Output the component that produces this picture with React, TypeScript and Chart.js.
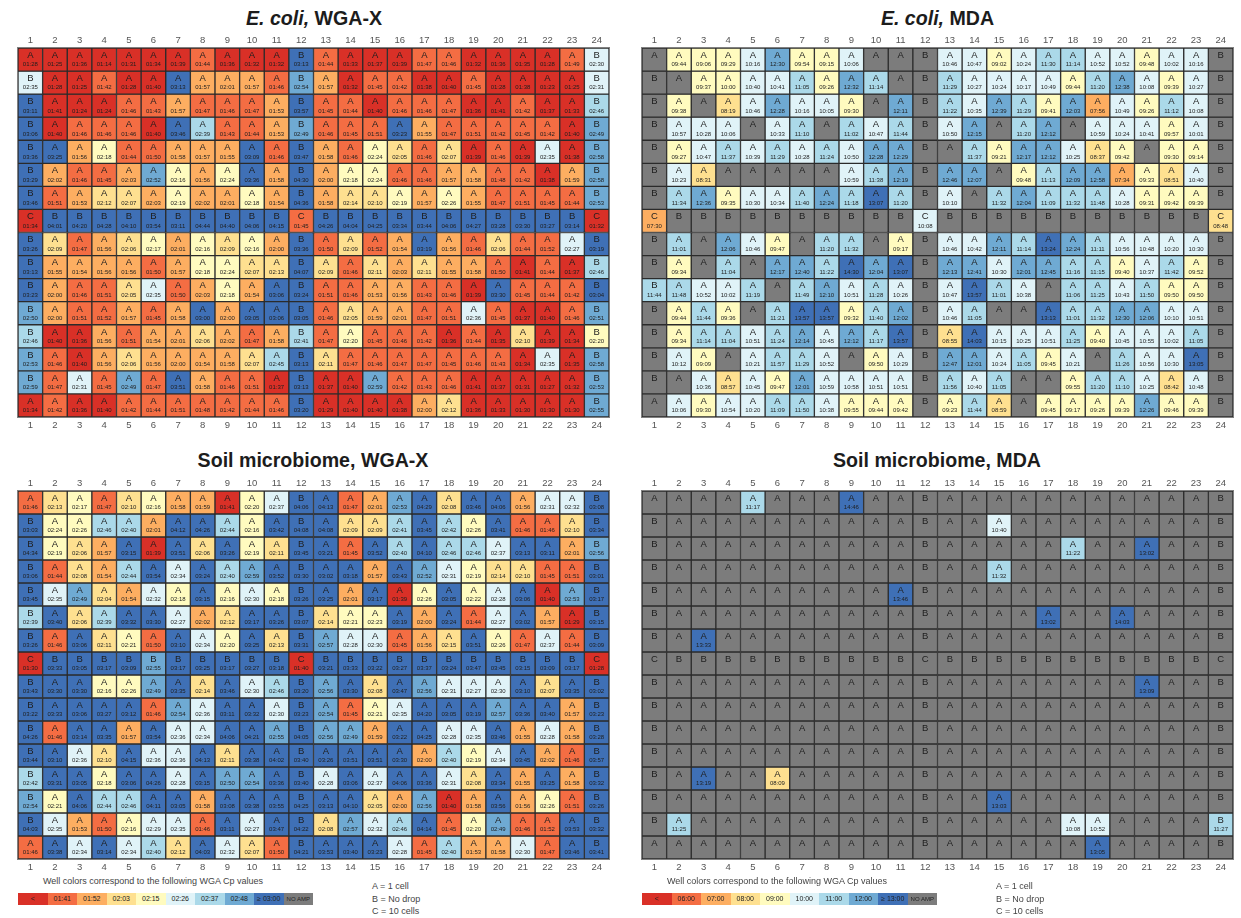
import React, { useEffect, useRef } from "react";
import { Chart, registerables } from "chart.js";

Chart.register(...registerables);

const FONT = '"Liberation Sans", Arial, sans-serif';

const columnLabels = Array.from({ length: 24 }, (_, i) => String(i + 1));
const rowLabels = ["A", "B", "C", "D", "E", "F", "G", "H", "I", "J", "K", "L", "M", "N", "O", "P"];

const wellContents = [
  "AAAAAAAAAAABAAAAAAAAAAAB",
  "BAAAAAAAAAABAAAAAAAAAAAB",
  "BAAAAAAAAAABAAAAAAAAAAAB",
  "BAAAAAAAAAABAAAAAAAAAAAB",
  "BAAAAAAAAAABAAAAAAAAAAAB",
  "BAAAAAAAAAABAAAAAAAAAAAB",
  "BAAAAAAAAAABAAAAAAAAAAAB",
  "CBBBBBBBBBBCBBBBBBBBBBBC",
  "BAAAAAAAAAABAAAAAAAAAAAB",
  "BAAAAAAAAAABAAAAAAAAAAAB",
  "BAAAAAAAAAABAAAAAAAAAAAB",
  "BAAAAAAAAAABAAAAAAAAAAAB",
  "BAAAAAAAAAABAAAAAAAAAAAB",
  "BAAAAAAAAAABAAAAAAAAAAAB",
  "BAAAAAAAAAABAAAAAAAAAAAB",
  "AAAAAAAAAAABAAAAAAAAAAAB",
];

const palette = ["#D93027", "#F46D43", "#FDAE61", "#FEE090", "#FFFBBF", "#E0F3F8", "#ABD9E9", "#6FAAD3", "#3F70B6"];
const noAmpColor = "#7C7C7C";

const wgaBreaks = ["01:41", "01:52", "02:03", "02:15", "02:26", "02:37", "02:48", "02:59"];
const mdaBreaks = ["06:00", "07:00", "08:00", "09:00", "10:00", "11:00", "12:00", "13:00"];
const wgaLegend = ["<", "01:41", "01:52", "02:03", "02:15", "02:26", "02:37", "02:48", "\u2265 03:00", "NO AMP"];
const mdaLegend = ["<", "06:00", "07:00", "08:00", "09:00", "10:00", "11:00", "12:00", "\u2265 13:00", "NO AMP"];

const ecoliWga = [
  "01:28 01:25 01:36 01:14 01:31 01:34 01:39 01:44 01:36 01:32 01:32 03:13 01:44 01:33 01:37 01:39 01:47 01:46 01:32 01:36 01:35 01:28 01:49 02:30",
  "02:35 01:28 01:25 01:42 01:28 01:40 03:13 01:57 02:01 01:57 01:46 02:54 01:57 01:32 01:45 01:42 01:38 01:40 01:45 01:28 01:38 01:23 01:25 02:31",
  "03:11 01:41 01:24 01:24 01:46 01:43 01:57 01:47 01:46 01:47 01:53 03:57 01:45 01:44 01:40 01:46 01:46 01:47 01:36 01:41 01:42 01:37 01:33 02:46",
  "03:06 01:40 01:46 01:46 01:46 01:40 03:46 02:39 01:43 01:44 01:53 02:49 01:46 01:45 01:51 03:23 01:55 01:47 01:51 01:42 01:45 01:42 01:40 02:49",
  "03:36 03:25 01:56 02:18 01:44 01:50 01:58 01:57 01:55 03:09 01:46 03:47 01:58 01:46 02:24 02:05 01:46 02:07 01:39 01:46 01:39 02:35 01:38 02:58",
  "03:29 02:02 01:46 01:45 02:03 02:52 02:16 01:56 02:24 03:36 01:58 04:30 02:00 02:18 02:24 01:46 01:46 01:57 01:58 01:48 01:42 01:38 01:59 02:58",
  "03:46 01:51 01:53 02:12 02:07 02:03 02:19 02:02 02:01 02:18 01:54 04:36 01:58 02:14 02:10 02:19 01:57 02:26 01:55 01:47 01:51 01:45 01:44 02:53",
  "01:34 04:01 04:20 04:28 04:10 03:54 03:11 04:44 04:40 04:06 04:15 01:45 04:26 04:04 04:25 03:34 03:44 04:06 04:27 03:28 03:30 03:27 03:14 01:32",
  "03:26 02:09 01:47 01:56 02:06 02:17 02:01 02:16 02:09 02:16 02:00 03:36 01:50 02:09 01:52 01:54 03:19 01:56 01:46 02:06 01:44 01:52 02:27 03:19",
  "03:13 01:55 01:54 01:56 01:56 01:50 01:57 02:18 02:24 02:07 02:13 04:07 02:09 01:46 02:11 02:03 02:11 01:55 01:58 01:50 01:41 01:44 01:37 02:46",
  "03:23 02:00 01:46 01:51 02:05 02:35 01:50 02:03 02:18 01:54 03:06 03:24 01:51 01:46 01:53 01:56 01:43 01:46 01:39 03:30 01:45 01:44 01:42 03:04",
  "02:50 02:00 01:51 01:52 01:57 01:45 01:58 03:00 02:00 03:05 03:06 03:05 01:46 02:05 01:59 02:01 01:47 01:51 02:36 01:45 01:37 01:40 01:46 02:51",
  "02:46 01:40 01:36 01:56 01:51 01:54 02:01 02:06 02:02 01:47 01:58 02:41 01:47 02:20 01:45 01:46 01:42 01:36 01:44 01:35 02:10 01:39 01:34 02:20",
  "02:53 01:46 01:40 01:56 02:06 01:56 02:00 01:54 01:58 02:07 02:45 03:13 02:11 01:47 01:46 01:47 01:47 01:45 01:46 01:43 01:34 02:35 01:35 02:58",
  "02:59 01:47 02:31 01:45 02:49 01:47 03:51 01:58 01:46 01:51 01:37 03:13 01:37 01:40 02:59 01:42 01:43 01:46 01:41 01:37 01:31 01:27 01:32 02:53",
  "01:34 01:42 01:36 01:40 01:42 01:44 01:51 01:48 01:42 01:44 01:46 03:20 01:29 01:40 01:40 01:38 02:00 02:12 01:36 01:33 01:30 01:30 01:30 02:55",
];

const ecoliMda = [
  "- 09:44 09:06 09:29 10:16 12:30 09:54 09:15 10:06 - - - 10:46 10:47 09:02 10:24 11:30 11:14 10:52 10:52 09:48 10:02 10:16 -",
  "- - 09:37 10:00 10:40 10:41 11:05 09:26 12:32 11:14 - - 11:29 10:27 10:24 10:17 10:49 09:44 11:20 12:38 10:08 09:39 10:27 -",
  "- 09:38 - 08:19 10:46 12:28 10:16 10:05 09:30 - 12:11 - 11:22 10:35 12:39 11:29 09:41 12:03 07:56 10:49 09:26 11:12 10:08 -",
  "- 10:57 10:28 10:06 - 10:33 11:10 - 11:02 10:47 11:44 - 10:50 12:15 - 11:20 12:12 - 10:59 10:24 10:41 09:57 10:01 -",
  "- 09:27 10:47 11:37 10:39 11:29 10:28 11:24 10:50 12:28 12:29 - - 11:37 09:21 12:17 12:12 10:25 08:37 09:42 - 09:30 09:14 -",
  "- 10:23 08:31 - - - - - 10:59 11:38 12:19 - 12:46 12:07 - 09:48 11:13 12:09 12:58 07:34 09:33 08:51 10:40 -",
  "- 11:34 12:36 09:35 10:30 10:34 11:40 12:24 11:18 13:07 11:20 - 10:10 - 11:32 12:04 11:09 11:32 11:48 10:28 09:31 09:42 09:39 -",
  "07:30 - - - - - - - - - - 10:08 - - - - - - - - - - - 08:48",
  "- 11:01 - 12:06 10:46 09:47 - 11:20 11:32 - 09:17 - 10:46 10:42 12:11 11:14 13:24 12:24 11:11 10:56 10:48 10:20 10:30 -",
  "- 09:34 - 11:04 - 12:17 12:40 11:22 14:30 12:04 13:07 - 12:13 12:41 10:30 12:01 12:45 11:16 11:15 09:40 10:37 11:42 09:52 -",
  "11:44 11:48 10:52 10:02 11:19 - 11:49 12:10 10:51 11:28 10:26 - 10:47 13:57 11:01 10:38 - 11:06 11:25 10:43 11:50 09:50 09:50 -",
  "- 09:44 11:44 09:36 - 11:21 13:57 13:57 09:32 11:40 12:02 - 10:46 11:05 - - 13:13 11:01 11:32 12:30 12:06 10:10 10:51 -",
  "- 09:34 11:14 11:04 10:51 11:24 12:14 10:45 12:12 11:17 13:57 - 08:55 14:03 10:15 10:25 10:51 11:25 09:40 10:45 10:55 10:02 11:05 -",
  "- 10:12 09:09 - 10:21 11:57 11:29 10:52 - 09:50 10:29 - 12:47 12:01 10:24 11:05 09:45 10:21 - 11:26 10:56 10:30 13:05 -",
  "- - 10:36 08:57 10:45 09:47 12:01 10:59 10:58 10:51 10:51 - 11:56 10:40 11:05 - - 09:55 11:20 11:10 10:25 08:42 10:48 -",
  "- 10:06 09:30 10:54 10:20 11:09 11:50 10:38 09:55 09:44 09:42 - 09:23 11:44 08:59 - 09:45 09:17 09:26 09:39 12:26 09:46 09:39 -",
];

const soilWga = [
  "01:46 02:13 02:17 01:47 02:10 02:16 01:58 01:59 01:41 02:20 02:37 04:06 04:13 01:47 02:01 02:53 04:29 02:08 03:46 04:06 01:56 02:31 02:32 03:08",
  "03:03 02:24 02:26 02:46 02:40 02:01 04:12 04:26 02:44 02:16 03:42 04:08 04:08 02:09 02:09 02:41 03:45 02:42 02:26 03:41 01:46 01:46 02:10 03:34",
  "04:34 02:19 02:06 01:57 03:15 01:39 03:51 02:06 03:26 02:19 02:11 03:45 03:21 01:45 03:52 02:40 04:10 02:46 02:46 02:37 03:13 03:11 02:01 02:56",
  "03:06 01:44 02:08 01:54 02:44 03:54 02:34 03:24 02:40 02:59 03:52 03:30 03:02 03:18 01:57 03:43 02:52 02:31 02:19 02:14 02:10 01:45 01:51 03:01",
  "03:45 02:35 02:49 02:04 01:54 02:32 02:18 03:15 02:16 02:30 02:18 03:26 03:25 02:01 03:17 01:39 02:26 03:05 02:22 02:28 03:06 01:40 02:53 03:17",
  "02:39 03:40 02:06 02:39 03:32 03:30 02:27 02:02 02:12 03:17 03:26 03:07 02:14 02:21 02:23 03:19 02:00 03:24 01:44 02:27 03:02 01:57 01:29 03:15",
  "03:26 01:46 03:06 02:11 02:21 01:50 03:10 02:34 02:20 03:25 02:13 03:31 02:57 02:28 02:30 01:45 01:56 02:15 03:51 02:26 01:47 02:37 01:44 03:09",
  "01:30 03:33 03:05 03:17 03:09 02:55 03:17 03:25 03:17 03:27 03:18 01:40 03:21 03:33 03:22 03:27 03:37 03:24 03:47 03:45 03:15 03:09 03:17 01:28",
  "03:43 03:30 03:30 02:16 02:26 02:49 03:35 02:14 03:46 02:30 02:46 03:20 02:56 03:30 02:08 03:47 02:56 02:31 02:27 02:30 03:10 02:07 03:35 03:02",
  "03:22 03:33 03:06 03:27 03:12 01:46 02:54 02:36 03:11 03:32 02:30 03:23 02:54 01:45 02:21 02:35 04:20 03:05 03:19 02:57 03:36 03:40 01:57 03:23",
  "04:26 01:46 03:14 03:35 01:57 03:54 02:36 02:34 04:06 04:21 02:55 04:05 02:56 02:49 01:59 03:22 04:25 02:28 02:35 03:46 01:55 02:28 01:58 03:28",
  "03:44 03:10 02:36 02:10 04:15 02:36 02:36 04:13 02:11 03:38 04:02 03:40 03:26 03:51 03:51 03:30 02:00 02:40 02:19 02:34 03:45 02:02 01:46 03:57",
  "02:42 03:31 03:05 02:18 03:06 04:26 02:28 03:15 02:50 02:54 03:36 03:40 02:28 03:06 02:37 04:06 03:36 02:31 02:08 03:34 01:55 03:25 01:58 03:32",
  "02:54 02:21 04:06 02:44 02:46 04:11 03:05 01:58 03:08 03:38 03:55 04:25 03:13 04:10 02:05 02:00 02:56 01:40 01:58 03:56 01:56 02:26 01:51 03:26",
  "04:03 02:35 01:53 01:50 02:16 02:29 02:35 01:46 03:11 02:27 03:47 04:22 02:08 02:57 02:32 02:46 04:14 01:45 02:20 02:49 01:46 01:52 03:53 03:32",
  "01:46 03:38 02:34 03:14 02:34 02:40 02:12 04:03 02:32 02:07 01:50 04:21 03:53 03:40 03:23 02:28 01:45 02:40 01:53 01:58 02:30 01:47 03:46 03:41",
];

const soilMda = [
  "- - - - 11:17 - - - 14:46 - - - - - - - - - - - - - - -",
  "- - - - - - - - - - - - - - 10:40 - - - - - - - - -",
  "- - - - - - - - - - - - - - - - - 11:22 - - 13:02 - - -",
  "- - - - - - - - - - - - - - 11:32 - - - - - - - - -",
  "- - - - - - - - - - 13:46 - - - - - - - - - - - - -",
  "- - - - - - - - - - - - - - - - 13:02 - - 14:03 - - - -",
  "- - 13:33 - - - - - - - - - - - - - - - - - - - - -",
  "- - - - - - - - - - - - - - - - - - - - - - - -",
  "- - - - - - - - - - - - - - - - - - - - 13:09 - - -",
  "- - - - - - - - - - - - - - - - - - - - - - - -",
  "- - - - - - - - - - - - - - - - - - - - - - - -",
  "- - - - - - - - - - - - - - - - - - - - - - - -",
  "- - 13:19 - - 08:09 - - - - - - - - - - - - - - - - - -",
  "- - - - - - - - - - - - - - 13:03 - - - - - - - - -",
  "- 11:25 - - - - - - - - - - - - - - - 10:08 10:52 - - - - 11:27",
  "- - - - - - - - - - - - - - - - - - 13:05 - - - - -",
];

function colorFor(time: string, breaks: string[]) {
  if (!time || time === "-") return noAmpColor;
  const i = breaks.findIndex((b) => time <= b);
  return palette[i < 0 ? palette.length - 1 : i];
}

const wellText = {
  id: "wellText",
  afterDatasetsDraw(chart: any) {
    const { ctx, scales } = chart;
    ctx.save();
    ctx.textAlign = "center";
    ctx.textBaseline = "middle";
    ctx.fillStyle = "#1e1e1e";
    chart.data.datasets.forEach((ds: any, r: number) => {
      const yMid = scales.y.getPixelForValue(r);
      ds.times.forEach((t: string, c: number) => {
        const x = scales.x.getPixelForValue(c);
        ctx.font = `9.5px ${FONT}`;
        ctx.fillText(ds.contents[c], x, yMid - 4.3);
        if (t !== "-") {
          ctx.font = `6px ${FONT}`;
          ctx.fillText(t, x, yMid + 5.2);
        }
      });
    });
    ctx.restore();
  },
};

const tickFont = { family: FONT, size: 9.5 };
const axisBorder = { display: true, color: "#808080", width: 2 };

function Plate({ rows, breaks, left, top, width, height, rightGutter }: any) {
  const ref = useRef<HTMLCanvasElement>(null);
  useEffect(() => {
    const parsed = rows.map((s: string) => s.split(" "));
    const fix = (prop: "width" | "height", v: number) => (s: any) => {
      s[prop] = v;
    };
    const rowScale = (position: string, w: number, padding: number) => ({
      type: "linear",
      position,
      reverse: true,
      min: -0.5,
      max: 15.5,
      z: 1,
      afterFit: fix("width", w),
      border: axisBorder,
      grid: { display: false, drawTicks: false },
      ticks: {
        stepSize: 1,
        includeBounds: false,
        autoSkip: false,
        padding,
        color: "#555",
        font: { family: FONT, size: 10 },
        callback: (v: number) => rowLabels[v],
      },
    });
    const colScale = (position: string, h: number, padding: number) => ({
      type: "category",
      position,
      labels: columnLabels,
      offset: true,
      z: 1,
      afterFit: fix("height", h),
      border: axisBorder,
      grid: { display: false, drawTicks: false },
      ticks: { autoSkip: false, maxRotation: 0, padding, color: "#555", font: tickFont },
    });
    const chart = new Chart(ref.current!, {
      type: "bar",
      data: {
        labels: columnLabels,
        datasets: parsed.map((times: string[], r: number) => ({
          label: rowLabels[r],
          contents: wellContents[r].split(""),
          times,
          data: times.map(() => [r - 0.5, r + 0.5]),
          backgroundColor: times.map((t) => colorFor(t, breaks)),
          borderColor: "#2b2b2b",
          borderWidth: 1,
          borderSkipped: false,
          grouped: false,
          categoryPercentage: 1,
          barPercentage: 1,
          xAxisID: "x",
          yAxisID: "y",
        })),
      } as any,
      options: {
        responsive: false,
        animation: false,
        layout: { padding: 0 },
        plugins: { legend: { display: false }, tooltip: { enabled: false }, title: { display: false } },
        scales: {
          x: colScale("bottom", 15, 3),
          xTop: colScale("top", 18, 2),
          y: rowScale("left", 18, 3),
          yRight: rowScale("right", rightGutter, 2),
        },
      } as any,
      plugins: [wellText],
    });
    return () => chart.destroy();
  }, []);
  return (
    <canvas
      ref={ref}
      width={width}
      height={height}
      style={{ position: "absolute", left, top, width, height, display: "block" }}
    />
  );
}

function Heading({ center, top, children }: any) {
  return (
    <div
      style={{
        position: "absolute",
        left: center - 200,
        top,
        width: 400,
        textAlign: "center",
        fontWeight: 700,
        fontSize: 19.6,
        lineHeight: "26px",
        color: "#1c1c1c",
        fontFamily: FONT,
      }}
    >
      {children}
    </div>
  );
}

function Key({ left, keyLeft, labels }: any) {
  const swatches = [...palette, noAmpColor];
  return (
    <>
      <div
        style={{
          position: "absolute",
          left: left + 25,
          top: 875,
          fontSize: 9,
          lineHeight: "12px",
          color: "#444",
          whiteSpace: "nowrap",
          fontFamily: FONT,
        }}
      >
        Well colors correspond to the following WGA Cp values
      </div>
      <div style={{ position: "absolute", left, top: 893, display: "flex", height: 12 }}>
        {labels.map((l: string, i: number) => (
          <div
            key={i}
            style={{
              width: 29.5,
              height: 12,
              background: swatches[i],
              fontSize: i === 9 ? 6 : 7,
              lineHeight: "12px",
              textAlign: "center",
              color: "#222",
              whiteSpace: "nowrap",
              fontFamily: FONT,
            }}
          >
            {l}
          </div>
        ))}
      </div>
      {["A = 1 cell", "B = No drop", "C = 10 cells"].map((t, i) => (
        <div
          key={t}
          style={{
            position: "absolute",
            left: keyLeft,
            top: 880 + i * 12.6,
            fontSize: 9,
            lineHeight: "12px",
            color: "#444",
            whiteSpace: "nowrap",
            fontFamily: FONT,
          }}
        >
          {t}
        </div>
      ))}
    </>
  );
}

export default function App() {
  return (
    <div
      style={{
        position: "absolute",
        left: 0,
        top: 0,
        width: 1241,
        height: 918,
        overflow: "hidden",
        background: "#fff",
        filter: "blur(0.6px)",
      }}
    >
      <Heading center={314} top={5}>
        <i>E. coli,</i> WGA-X
      </Heading>
      <Heading center={937.5} top={5}>
        <i>E. coli,</i> MDA
      </Heading>
      <Heading center={313} top={447}>
        Soil microbiome, WGA-X
      </Heading>
      <Heading center={937} top={447}>
        Soil microbiome, MDA
      </Heading>
      <Plate rows={ecoliWga} breaks={wgaBreaks} left={0} top={30} width={628} height={402} rightGutter={19} />
      <Plate rows={ecoliMda} breaks={mdaBreaks} left={624} top={30} width={617} height={402} rightGutter={8} />
      <Plate rows={soilWga} breaks={wgaBreaks} left={0} top={473} width={628} height={401} rightGutter={19} />
      <Plate rows={soilMda} breaks={mdaBreaks} left={624} top={473} width={617} height={401} rightGutter={8} />
      <Key left={18} keyLeft={372} labels={wgaLegend} />
      <Key left={642} keyLeft={996} labels={mdaLegend} />
    </div>
  );
}
